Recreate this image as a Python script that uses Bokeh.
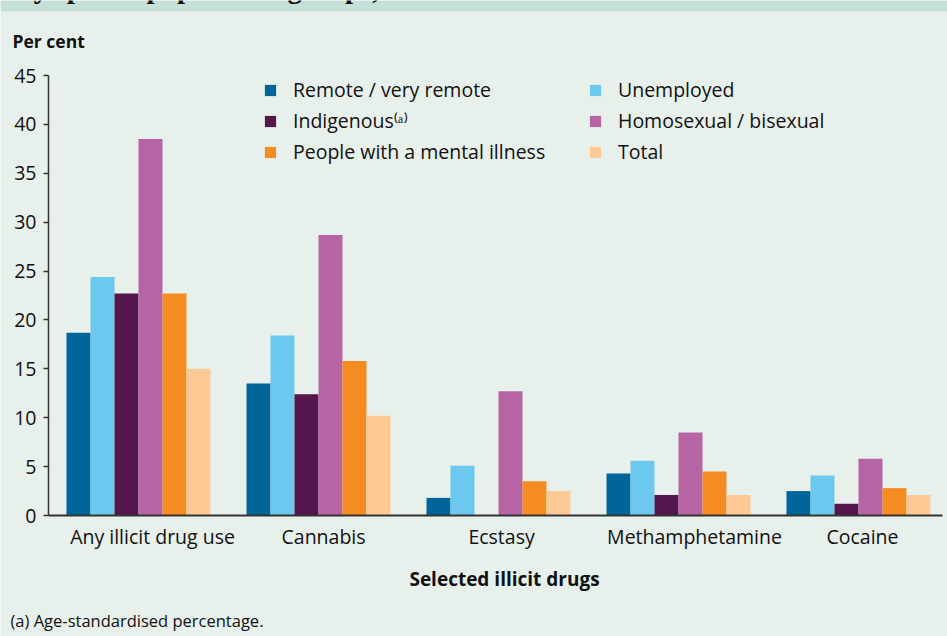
import numpy as np
from bokeh.plotting import figure
from bokeh.models import (ColumnDataSource, Range1d, FixedTicker, Legend,
                          LegendItem, Label, BoxAnnotation, LinearAxis)
from bokeh.transform import dodge
from bokeh.embed import file_html
from bokeh.resources import INLINE

# Recent use of selected illicit drugs by population group (per cent)
drugs = ["Any illicit drug use", "Cannabis", "Ecstasy", "Methamphetamine", "Cocaine"]
remote = [18.7, 13.5, 1.8, 4.3, 2.5]
unemployed = [24.4, 18.4, 5.1, 5.6, 4.1]
indigenous = [22.7, 12.4, np.nan, 2.1, 1.2]
homosexual = [38.5, 28.7, 12.7, 8.5, 5.8]
mental_illness = [22.7, 15.8, 3.5, 4.5, 2.8]
total = [15.0, 10.2, 2.5, 2.1, 2.1]

series = [
    ("Remote / very remote", remote, "#00669a"),
    ("Unemployed", unemployed, "#6dc8f0"),
    ("Indigenous⁽ᵃ⁾", indigenous, "#54174b"),
    ("Homosexual / bisexual", homosexual, "#b764a5"),
    ("People with a mental illness", mental_illness, "#f58c22"),
    ("Total", total, "#fdca96"),
]
y_ticks = [0, 5, 10, 15, 20, 25, 30, 35, 40, 45]
y_max = 45

W, H = 947, 636
AX_X, AX_TOP, AX_Y, AX_RIGHT = 48, 75, 515, 942   # plot area corners (px)
GROUP_PX = 180                                      # width of one category
PX_PER_UNIT = (AX_Y - AX_TOP) / y_max
BG = "#e7f0eb"
FONT = "Open Sans"
INK = "#111111"

# the frame fills the whole canvas; axes are pinned inside it
x_range = Range1d(-AX_X / GROUP_PX, (W - AX_X) / GROUP_PX)
y_range = Range1d(-(H - AX_Y) / PX_PER_UNIT, AX_Y / PX_PER_UNIT)

p = figure(width=W, height=H, output_backend="svg", toolbar_location=None,
           x_range=x_range, y_range=y_range,
           x_axis_location=None, y_axis_location=None, min_border=0)
p.background_fill_color = BG
p.border_fill_color = BG
p.outline_line_color = None
p.grid.visible = False


def top(py):
    # canvas row (top-down) -> screen y measured from the bottom
    return H - py


src = ColumnDataSource(dict(pos=np.arange(len(drugs)) + 0.5,
                            **{f"s{i}": vals for i, (_, vals, _) in enumerate(series)}))

# header band (runs to the frame edges) with the tail of the title cut by the top edge
p.add_layout(BoxAnnotation(bottom=top(11), bottom_units="screen",
                           fill_color="#c5e0d9", fill_alpha=1, line_color=None,
                           level="underlay"))
p.add_layout(Label(x=17, y=top(3), text="by special population groups,",
                   x_units="screen", y_units="screen",
                   text_baseline="bottom", text_font="Liberation Serif",
                   text_font_style="bold", text_font_size="29px",
                   text_color=INK))

bar_w = 24 / GROUP_PX
renderers = []
for i, (name, _, color) in enumerate(series):
    r = p.vbar(x=dodge("pos", (i - 2.5) * bar_w, range=p.x_range), top=f"s{i}",
               width=bar_w, bottom=0, source=src, fill_color=color,
               line_color=None)
    renderers.append(r)

# y axis
ya = LinearAxis(fixed_location=0, bounds=(0, y_max))
ya.ticker = FixedTicker(ticks=y_ticks)
ya.major_tick_out = 5
ya.major_tick_in = 0
ya.minor_tick_line_color = None
ya.axis_line_color = "#333333"
ya.axis_line_width = 1.5
ya.major_tick_line_color = "#333333"
ya.major_tick_line_width = 1.5
ya.major_label_standoff = 7
ya.major_label_text_font = FONT
ya.major_label_text_font_size = "19.5px"
ya.major_label_text_color = INK
p.add_layout(ya, "left")

# category axis; label anchors nudged right of the group centres
label_nudge = [0.078, 0.028, 0.017, 0.089, 0.022]
label_pos = [i + 0.5 + label_nudge[i] for i in range(len(drugs))]
xa = LinearAxis(fixed_location=0, bounds=(0, (AX_RIGHT - AX_X) / GROUP_PX))
xa.ticker = FixedTicker(ticks=label_pos)
xa.major_label_overrides = {t: d for t, d in zip(label_pos, drugs)}
xa.major_tick_out = 0
xa.major_tick_in = 0
xa.minor_tick_line_color = None
xa.axis_line_color = "#333333"
xa.axis_line_width = 2
xa.major_label_standoff = 7
xa.major_label_text_font = FONT
xa.major_label_text_font_size = "19.5px"
xa.major_label_text_color = INK
p.add_layout(xa, "below")


# legend in two columns
def make_legend(idx, x_px):
    items = [LegendItem(label=series[i][0], renderers=[renderers[i]]) for i in idx]
    lg = Legend(items=items, location=(x_px, top(165)),
                glyph_width=14, glyph_height=14, label_standoff=16,
                spacing=4, padding=0, margin=0,
                background_fill_alpha=0, border_line_color=None,
                label_text_font=FONT, label_text_font_size="19.5px",
                label_text_color=INK)
    p.add_layout(lg, "center")


make_legend([0, 2, 4], 263)
make_legend([1, 3, 5], 588)

# titles and note
p.add_layout(Label(x=12, y=top(40), text="Per cent", x_units="screen",
                   y_units="screen", text_baseline="middle",
                   text_font=FONT, text_font_style="bold",
                   text_font_size="17.5px", text_color=INK))
p.add_layout(Label(x=504, y=top(578), text="Selected illicit drugs",
                   x_units="screen", y_units="screen", text_align="center",
                   text_baseline="middle", text_font=FONT,
                   text_font_style="bold", text_font_size="19px",
                   text_color=INK))
p.add_layout(Label(x=10, y=top(620), text="(a) Age-standardised percentage.",
                   x_units="screen", y_units="screen", text_baseline="middle",
                   text_font=FONT, text_font_size="16.5px", text_color=INK))

open("out.html", "w").write(file_html(p, INLINE))
